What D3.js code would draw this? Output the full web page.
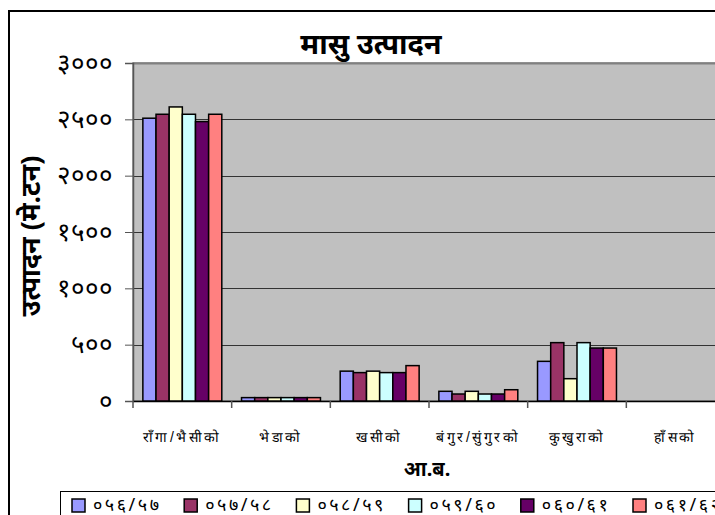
<!DOCTYPE html>
<html>
<head>
<meta charset="utf-8">
<script src="https://cdn.jsdelivr.net/npm/d3@7"></script>
<style>
  body { margin: 0; background: #fff; }
  svg { display: block; font-family: "Noto Sans", "DejaVu Sans", sans-serif; }
</style>
</head>
<body>
<div id="chart"></div>
<script>
// categories (meat type) and fiscal years
const categories = ["राँगा/भैसीको", "भेडाको", "खसीको", "बंगुर/सुंगुरको", "कुखुराको", "हाँसको"];
const years = ["०५६/५७", "०५७/५८", "०५८/५९", "०५९/६०", "०६०/६१", "०६१/६२"];
const colors = ["#9999FF", "#993366", "#FFFFCC", "#CCFFFF", "#660066", "#FF8080"];

// production (metric ton), one array per year
const y056 = [2510, 30, 265, 86, 352, 0];
const y057 = [2545, 30, 252, 62, 518, 0];
const y058 = [2610, 30, 265, 86, 198, 0];
const y059 = [2545, 30, 252, 62, 518, 0];
const y060 = [2480, 30, 252, 62, 470, 0];
const y061 = [2545, 30, 314, 100, 470, 0];
const series = [y056, y057, y058, y059, y060, y061];

const yTicks = [0, 500, 1000, 1500, 2000, 2500, 3000];

const width = 715, height = 515;
const plot = { left: 133, right: 725, top: 63, bottom: 401 };

// convert latin digits to devanagari
const devDigits = "०१२३४५६७८९";
const toDev = n => String(n).replace(/[0-9]/g, d => devDigits[+d]);

const svg = d3.select("#chart").append("svg")
    .attr("width", width)
    .attr("height", height);

// chart area border (cropped on right/bottom)
svg.append("rect")
    .attr("x", 9).attr("y", 11)
    .attr("width", 740).attr("height", 520)
    .attr("fill", "#fff")
    .attr("stroke", "#000")
    .attr("stroke-width", 2);

const x = d3.scaleBand().domain(categories).range([plot.left, plot.right]);
const xInner = d3.scaleBand().domain(d3.range(years.length))
    .range([x.bandwidth() * 0.1, x.bandwidth() * 0.9]);
const y = d3.scaleLinear().domain([0, 3000]).range([plot.bottom, plot.top]);

// plot background
svg.append("rect")
    .attr("x", plot.left).attr("y", plot.top)
    .attr("width", plot.right - plot.left)
    .attr("height", plot.bottom - plot.top)
    .attr("fill", "#C0C0C0")
    .attr("stroke", "#808080")
    .attr("stroke-width", 1.5);

// gridlines
svg.append("g").selectAll("line")
    .data(yTicks.filter(t => t > 0))
    .enter().append("line")
    .attr("x1", plot.left).attr("x2", plot.right)
    .attr("y1", d => Math.round(y(d)) + 0.5)
    .attr("y2", d => Math.round(y(d)) + 0.5)
    .attr("stroke", d => d === 3000 ? "#808080" : "#333")
    .attr("stroke-width", d => d === 3000 ? 2 : 1);

// y axis
const yAxis = svg.append("g")
    .attr("transform", `translate(${plot.left},0)`)
    .call(d3.axisLeft(y).tickValues(yTicks).tickSize(8).tickPadding(12).tickFormat(toDev));
yAxis.select(".domain").attr("stroke", "#555").attr("stroke-width", 1.5);
yAxis.selectAll(".tick line").attr("stroke", "#555");
yAxis.selectAll("text")
    .attr("font-size", 26)
    .attr("fill", "#000");

// x axis
const xAxis = svg.append("g")
    .attr("transform", `translate(0,${plot.bottom})`)
    .call(d3.axisBottom(x).tickSize(0).tickPadding(31));
xAxis.select(".domain").attr("stroke", "#000").attr("stroke-width", 1.5);
xAxis.selectAll("text")
    .attr("font-size", 14)
    .attr("letter-spacing", 2.5)
    .attr("fill", "#000");

// category boundary ticks
svg.append("g").selectAll("line")
    .data(categories)
    .enter().append("line")
    .attr("x1", d => x(d)).attr("x2", d => x(d))
    .attr("y1", plot.bottom).attr("y2", plot.bottom + 7)
    .attr("stroke", "#555")
    .attr("stroke-width", 1.5);

// bars
series.forEach((vals, i) => {
    svg.append("g").selectAll("rect")
        .data(vals.map((v, j) => ({ cat: categories[j], v: v })).filter(d => d.v > 0))
        .enter().append("rect")
        .attr("x", d => x(d.cat) + xInner(i))
        .attr("y", d => y(d.v))
        .attr("width", xInner.bandwidth())
        .attr("height", d => plot.bottom - y(d.v))
        .attr("fill", colors[i])
        .attr("stroke", "#000")
        .attr("stroke-width", 1.5);
});

// title
svg.append("text")
    .attr("x", 371).attr("y", 54)
    .attr("text-anchor", "middle")
    .attr("font-size", 29)
    .attr("font-weight", "bold")
    .text("मासु उत्पादन");

// y axis title
svg.append("text")
    .attr("transform", "translate(40,236) rotate(-90)")
    .attr("text-anchor", "middle")
    .attr("font-size", 27)
    .attr("font-weight", "bold")
    .text("उत्पादन (मे.टन)");

// x axis title
svg.append("text")
    .attr("x", 427).attr("y", 476)
    .attr("text-anchor", "middle")
    .attr("font-size", 20)
    .attr("font-weight", "bold")
    .text("आ.ब.");

// legend
const legend = svg.append("g");
legend.append("rect")
    .attr("x", 60.5).attr("y", 491.5)
    .attr("width", 700).attr("height", 40)
    .attr("fill", "#fff")
    .attr("stroke", "#000")
    .attr("stroke-width", 1);

const item = legend.selectAll("g.item")
    .data(years)
    .enter().append("g")
    .attr("class", "item")
    .attr("transform", (d, i) => `translate(${72 + i * 112.2},0)`);
item.append("rect")
    .attr("x", 0).attr("y", 499)
    .attr("width", 13).attr("height", 13)
    .attr("fill", (d, i) => colors[i])
    .attr("stroke", "#000")
    .attr("stroke-width", 1.5);
item.append("text")
    .attr("x", 21).attr("y", 511)
    .attr("font-size", 18)
    .attr("letter-spacing", 2.5)
    .text(d => d);
</script>
</body>
</html>
